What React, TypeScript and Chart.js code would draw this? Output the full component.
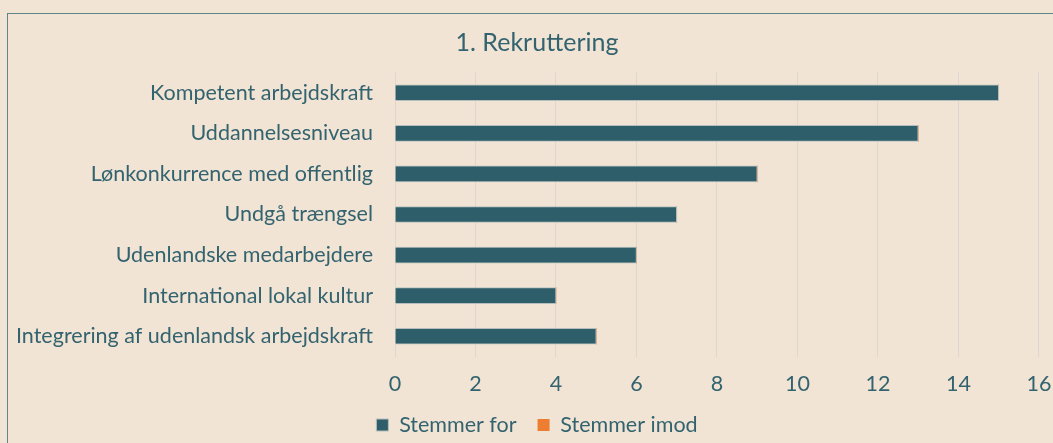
import React, { useEffect, useRef } from "react";
import { Chart, registerables } from "chart.js";

Chart.register(...registerables);

const categories = [
  "Kompetent arbejdskraft",
  "Uddannelsesniveau",
  "Lønkonkurrence med offentlig",
  "Undgå trængsel",
  "Udenlandske medarbejdere",
  "International lokal kultur",
  "Integrering af udenlandsk arbejdskraft",
];
const stemmerFor = [15, 13, 9, 7, 6, 4, 5];
const stemmerImod = [0, 0, 0, 0, 0, 0, 0];
const xMin = 0;
const xMax = 16;
const xStep = 2;

const BG = "#F1E4D4";
const TEAL = "#2E5E6A";
const TEXT = "#33636F";
const ORANGE = "#ED7D31";
const FONT = "Lato";

export default function App() {
  const ref = useRef<HTMLCanvasElement | null>(null);

  useEffect(() => {
    document.body.style.margin = "0";
    document.body.style.background = BG;
    document.documentElement.style.overflow = "hidden";
    const canvas = ref.current;
    if (!canvas) return;
    const chart = new Chart(canvas, {
      type: "bar",
      data: {
        labels: categories,
        datasets: [
          {
            label: "Stemmer for",
            data: stemmerFor,
            backgroundColor: TEAL,
            borderColor: "#B4BFBD",
            borderWidth: 1,
            barThickness: 16,
          },
          {
            label: "Stemmer imod",
            data: stemmerImod,
            backgroundColor: ORANGE,
            borderWidth: 0,
            barThickness: 16,
          },
        ],
      },
      options: {
        indexAxis: "y",
        animation: false,
        responsive: false,
        maintainAspectRatio: false,
        layout: { padding: { left: 0, right: 0, top: 0, bottom: 8.25 } },
        scales: {
          x: {
            min: xMin,
            max: xMax,
            stacked: true,
            ticks: {
              stepSize: xStep,
              color: TEXT,
              font: { family: FONT, size: 21.5 },
              padding: 14.6,
            },
            grid: { color: "#DCD7CF", lineWidth: 1, drawTicks: false },
            border: { display: false },
            afterFit: (scale: any) => {
              scale.height = 36.75;
            },
          },
          y: {
            stacked: true,
            ticks: {
              color: TEXT,
              font: { family: FONT, size: 21.5 },
              padding: 22,
            },
            grid: { display: false, drawTicks: false },
            border: { display: false },
            afterFit: (scale: any) => {
              scale.width = 387;
            },
          },
          ySpacer: {
            axis: "y",
            type: "linear",
            position: "right",
            display: true,
            ticks: { display: false },
            grid: { display: false, drawTicks: false },
            border: { display: false },
            afterFit: (scale: any) => {
              scale.width = 27;
            },
          },
        },
        plugins: {
          title: {
            display: true,
            text: "1. Rekruttering",
            color: TEXT,
            font: { family: FONT, size: 25, weight: "normal" },
            padding: { top: 14, bottom: 14.5 },
          },
          legend: {
            position: "bottom",
            labels: {
              color: TEXT,
              font: { family: FONT, size: 21.5 },
              boxWidth: 12,
              boxHeight: 12,
              padding: 21,
            },
          },
          tooltip: { enabled: false },
        },
      },
    });
    return () => chart.destroy();
  }, []);

  return (
    <div
      style={{
        position: "absolute",
        left: 7,
        top: 13,
        border: "1px solid #5F8587",
        background: BG,
        width: 1060,
        height: 460,
      }}
    >
      <canvas ref={ref} width={1058} height={440} style={{ display: "block" }} />
    </div>
  );
}
